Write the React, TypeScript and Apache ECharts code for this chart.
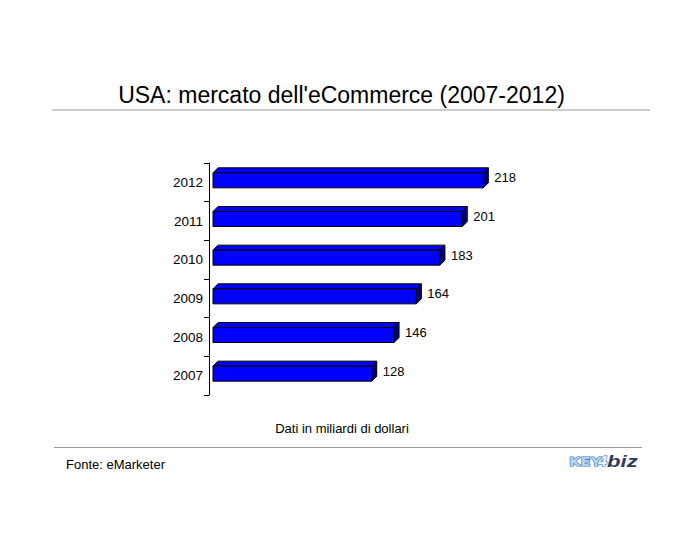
import React, { useEffect, useRef } from "react";
import * as echarts from "echarts";

const years = ["2007", "2008", "2009", "2010", "2011", "2012"];
const values = [128, 146, 164, 183, 201, 218];
const titleText = "USA: mercato dell'eCommerce (2007-2012)";
const unitNote = "Dati in miliardi di dollari";
const sourceNote = "Fonte: eMarketer";

const FONT = "'Liberation Sans', Arial, sans-serif";

export default function App() {
  const ref = useRef<HTMLDivElement>(null);
  useEffect(() => {
    const chart = echarts.init(ref.current as HTMLDivElement, null, { renderer: "svg" });
    const D = 5;
    chart.setOption({
      animation: false,
      backgroundColor: "#ffffff",
      grid: { left: 213, top: 163, width: 372, height: 232 },
      xAxis: { type: "value", min: 0, max: 300, show: false },
      yAxis: {
        type: "category",
        data: years,
        offset: 4,
        axisLine: { show: true, onZero: false, lineStyle: { color: "#000", width: 1 } },
        axisTick: { show: true, length: 5, inside: false, lineStyle: { color: "#000", width: 1 } },
        axisLabel: { color: "#000", fontSize: 13.5, fontFamily: FONT, margin: 6 },
        splitLine: { show: false },
      },
      series: [
        {
          type: "custom",
          data: values.map((v, i) => [v, i]),
          encode: { x: 0, y: 1 },
          renderItem: (params: any, api: any) => {
            const v = api.value(0);
            const idx = api.value(1);
            const p0 = api.coord([0, idx]);
            const p1 = api.coord([v, idx]);
            const x0 = p0[0];
            const x1 = p1[0];
            const cy = p0[1];
            const fy0 = cy - 9.5;
            const fy1 = cy + 5.5;
            const stroke = { stroke: "#000", lineWidth: 1 };
            return {
              type: "group",
              children: [
                {
                  type: "polygon",
                  shape: {
                    points: [
                      [x0, fy0],
                      [x0 + D, fy0 - D],
                      [x1 + D, fy0 - D],
                      [x1, fy0],
                    ],
                  },
                  style: { fill: "#0000ff", ...stroke },
                },
                {
                  type: "polygon",
                  shape: {
                    points: [
                      [x1, fy0],
                      [x1 + D, fy0 - D],
                      [x1 + D, fy1 - D],
                      [x1, fy1],
                    ],
                  },
                  style: { fill: "#000080", ...stroke },
                },
                {
                  type: "rect",
                  shape: { x: x0, y: fy0, width: x1 - x0, height: fy1 - fy0 },
                  style: { fill: "#0000ff", ...stroke },
                },
                {
                  type: "text",
                  x: x1 + D + 6,
                  y: cy - 4.5,
                  style: {
                    text: String(v),
                    fill: "#000",
                    fontSize: 13,
                    fontFamily: FONT,
                    textAlign: "left",
                    textVerticalAlign: "middle",
                  },
                },
              ],
            };
          },
        },
      ],
      graphic: [
        {
          type: "text",
          x: 341.5,
          y: 95,
          style: {
            text: titleText,
            fill: "#000",
            fontSize: 23,
            fontFamily: FONT,
            textAlign: "center",
            textVerticalAlign: "middle",
          },
        },
        {
          type: "line",
          shape: { x1: 52, y1: 110, x2: 650, y2: 110 },
          style: { stroke: "#9a9a9a", lineWidth: 1 },
        },
        {
          type: "text",
          x: 342,
          y: 428,
          style: {
            text: unitNote,
            fill: "#000",
            fontSize: 13,
            fontFamily: FONT,
            textAlign: "center",
            textVerticalAlign: "middle",
          },
        },
        {
          type: "line",
          shape: { x1: 54, y1: 447.5, x2: 642, y2: 447.5 },
          style: { stroke: "#9a9a9a", lineWidth: 1 },
        },
        {
          type: "text",
          x: 66,
          y: 464,
          style: {
            text: sourceNote,
            fill: "#000",
            fontSize: 13,
            fontFamily: FONT,
            textAlign: "left",
            textVerticalAlign: "middle",
          },
        },
        {
          type: "text",
          x: 569,
          y: 461,
          scaleX: 1.15,
          style: {
            text: "KEY",
            fill: "#b8d4f2",
            stroke: "#3f78c4",
            lineWidth: 1.2,
            fontSize: 13,
            fontWeight: "bold",
            fontFamily: "'DejaVu Sans', sans-serif",
            textAlign: "left",
            textVerticalAlign: "middle",
          },
        },
        {
          type: "text",
          x: 598,
          y: 461,
          style: {
            text: "4",
            fill: "#e8f0fa",
            stroke: "#3f78c4",
            lineWidth: 1.2,
            fontSize: 14,
            fontWeight: "bold",
            fontStyle: "italic",
            fontFamily: "'DejaVu Sans', sans-serif",
            textAlign: "left",
            textVerticalAlign: "middle",
          },
        },
        {
          type: "text",
          x: 607,
          y: 461,
          scaleX: 1.3,
          style: {
            text: "biz",
            fill: "#2f3d5c",
            fontSize: 17,
            fontWeight: "bold",
            fontStyle: "italic",
            fontFamily: "'Liberation Sans', Arial, sans-serif",
            textAlign: "left",
            textVerticalAlign: "middle",
          },
        },
      ],
    });
    return () => chart.dispose();
  }, []);
  return (
    <div
      ref={ref}
      style={{ position: "fixed", left: 0, top: 0, width: 700, height: 550, background: "#fff" }}
    />
  );
}
